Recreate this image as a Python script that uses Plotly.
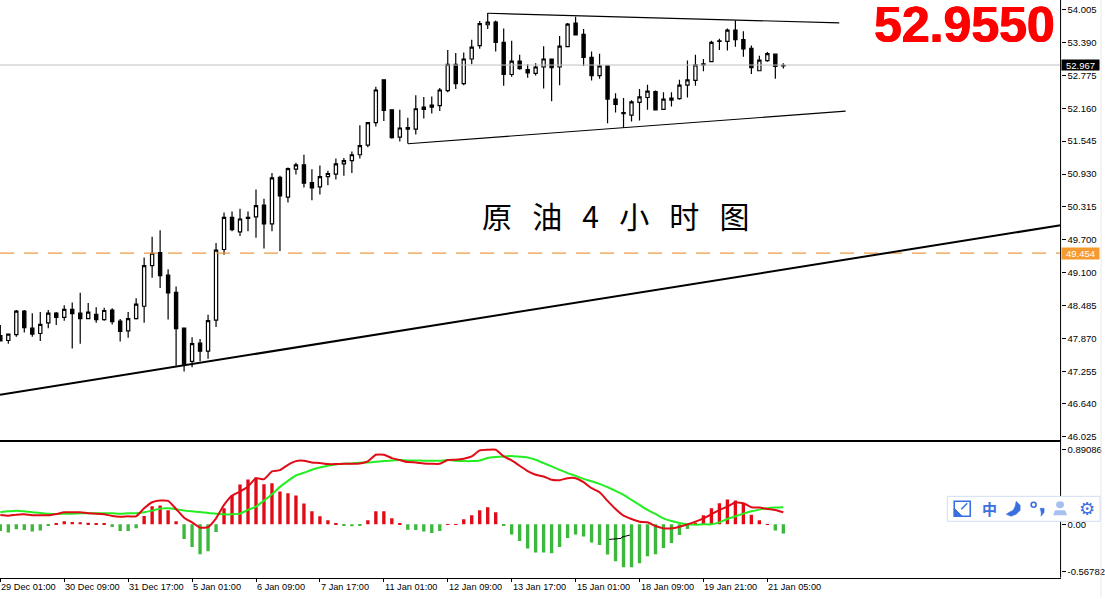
import plotly.graph_objects as go

W, H = 1105, 599

opens = [47.91,47.82,47.93,48.37,48.05,47.95,48.15,48.33,48.25,48.40,48.33,48.23,48.31,48.21,48.39,48.18,48.00,48.23,48.46,49.22,
49.46,49.04,48.72,48.05,47.43,47.77,47.62,48.20,49.52,50.12,49.85,50.12,50.13,50.35,50.00,50.87,50.50,51.02,51.10,50.77,
50.69,50.88,50.93,51.12,51.18,51.29,51.47,51.89,52.69,52.13,51.62,51.80,51.77,52.14,52.18,52.21,52.49,52.98,52.62,53.08,
53.33,53.72,53.77,53.39,52.79,53.04,52.88,52.81,52.93,53.08,52.93,53.31,53.75,53.54,53.11,52.77,52.95,52.33,52.08,52.03,
52.27,52.36,52.47,52.14,52.31,52.34,52.59,52.68,52.97,53.03,53.41,53.41,53.62,53.44,53.28,52.86,53.05,53.17,52.95]
highs = [48.11,47.94,48.39,48.39,48.33,48.35,48.39,48.35,48.48,48.53,48.71,48.52,48.44,48.43,48.42,48.22,48.35,48.61,49.37,49.76,
49.88,49.15,48.83,48.06,47.88,47.85,48.30,49.64,50.21,50.23,50.28,50.23,50.64,50.47,50.95,50.90,51.05,51.14,51.29,51.02,
51.09,50.99,51.22,51.23,51.35,51.84,51.89,52.56,52.69,52.13,52.13,51.98,52.40,52.37,52.38,52.54,53.25,53.19,53.20,53.44,
53.79,53.94,53.80,53.65,53.42,53.16,52.98,53.00,53.32,53.08,53.51,53.75,53.87,53.64,53.22,53.18,52.95,52.44,52.35,52.31,
52.52,52.60,52.49,52.46,52.46,52.69,53.05,53.16,53.08,53.42,53.46,53.65,53.80,53.60,53.33,53.14,53.21,53.17,53.00]
lows = [47.81,47.76,47.89,47.97,47.89,47.81,48.05,48.11,48.19,47.67,47.76,48.23,48.15,48.19,48.12,47.80,47.87,48.21,48.15,48.99,
48.80,48.21,47.35,47.24,47.32,47.43,47.48,48.07,49.42,49.86,49.77,49.86,49.74,49.54,49.86,49.49,50.40,50.92,50.68,50.44,
50.55,50.72,50.83,50.90,50.95,51.22,51.43,51.82,51.92,51.59,51.54,51.50,51.67,51.97,52.06,52.11,52.46,52.52,52.59,52.98,
53.27,53.64,53.22,52.58,52.75,52.88,52.73,52.77,52.53,52.29,52.59,53.31,53.52,52.95,52.68,52.71,51.88,52.08,51.79,51.91,
51.93,52.13,52.12,52.13,52.19,52.32,52.36,52.58,52.85,53.03,53.25,53.24,53.31,53.12,52.80,52.85,53.03,52.71,52.90]
closes = [47.81,47.94,48.37,48.06,47.94,48.12,48.33,48.25,48.40,48.32,48.23,48.35,48.21,48.38,48.17,47.99,48.23,48.50,49.22,49.45,
49.03,48.71,48.04,47.38,47.76,47.62,48.19,49.51,50.12,49.89,50.09,50.10,50.34,50.00,50.86,50.52,51.03,51.10,50.76,50.67,
50.88,50.94,51.12,51.18,51.29,51.46,51.89,52.50,52.12,51.61,51.79,51.77,52.15,52.18,52.22,52.50,52.98,52.62,53.08,53.30,
53.74,53.77,53.39,52.79,53.04,52.90,52.82,52.93,53.08,52.92,53.32,53.73,53.53,53.11,52.77,52.95,52.33,52.23,52.06,52.28,
52.37,52.48,52.13,52.33,52.35,52.59,52.69,52.97,52.99,53.39,53.42,53.62,53.44,53.27,52.92,53.06,53.18,52.94,52.96]

histogram = [-.08,-.096,-.06,-.068,-.084,-.072,-.02,.006,.036,.028,.024,.02,.008,.008,-.032,-.08,-.08,-.048,.10,.216,
.224,.168,.036,-.176,-.272,-.356,-.32,-.092,.192,.344,.476,.536,.56,.48,.492,.392,.372,.344,.248,.156,
.096,.048,.008,-.02,-.024,-.016,.048,.156,.156,.072,.008,-.064,-.068,-.084,-.104,-.08,.004,.004,.06,.108,
.168,.204,.144,-.02,-.12,-.20,-.288,-.336,-.336,-.344,-.272,-.164,-.12,-.144,-.216,-.248,-.36,-.44,-.512,-.512,
-.464,-.38,-.356,-.284,-.224,-.128,-.056,.02,.108,.192,.252,.296,.284,.244,.116,.048,.004,-.072,-.108]
macd_line = [.112,.104,.116,.12,.108,.108,.108,.124,.144,.144,.144,.132,.128,.12,.10,.092,.096,.096,.192,.264,
.284,.28,.184,.08,.024,-.04,-.032,.072,.232,.344,.392,.452,.552,.54,.632,.648,.712,.756,.76,.74,
.732,.72,.72,.724,.724,.728,.752,.832,.832,.792,.768,.744,.74,.728,.724,.724,.768,.772,.784,.812,
.884,.892,.892,.812,.764,.70,.636,.592,.572,.532,.528,.552,.552,.504,.432,.384,.28,.184,.104,.064,
.032,.024,-.02,-.048,-.048,-.028,0,.032,.072,.12,.172,.212,.26,.252,.204,.20,.184,.172,.144]
signal_line = [.144,.156,.164,.156,.144,.136,.128,.124,.128,.128,.132,.132,.132,.132,.132,.128,.132,.132,.144,.164,
.188,.192,.18,.164,.156,.148,.136,.128,.12,.12,.128,.172,.212,.284,.36,.448,.52,.584,.616,.652,
.68,.70,.716,.724,.728,.736,.74,.748,.756,.764,.768,.764,.764,.76,.76,.76,.768,.76,.756,.756,
.764,.792,.804,.812,.816,.808,.80,.772,.732,.692,.652,.612,.58,.544,.516,.484,.444,.40,.352,.292,
.232,.172,.124,.072,.04,.016,0,-.004,0,0,.024,.064,.096,.128,.156,.176,.192,.20,.204]

bar_index = list(range(len(opens)))
assert all(len(a) == len(opens) for a in (highs, lows, closes, histogram, macd_line, signal_line))

price_tick_values = [54.005,53.390,52.775,52.160,51.545,50.930,50.315,49.700,49.085,48.470,47.855,47.240,46.640,46.025]
price_tick_labels = ["54.005","53.390","52.775","52.160","51.545","50.930","50.315","49.700","49.100","48.485","47.870","47.255","46.640","46.025"]
macd_tick_values = [0.89086, 0.0, -0.56782]
macd_tick_labels = ["0.89086", "0.00", "-0.56782"]
time_tick_bars = [0,8,16,24,32,40,48,56,64,72,80,88,96]
time_tick_labels = ["29 Dec 01:00","30 Dec 09:00","31 Dec 17:00","5 Jan 01:00","6 Jan 09:00","7 Jan 17:00","11 Jan 01:00",
                    "12 Jan 09:00","13 Jan 17:00","15 Jan 01:00","18 Jan 09:00","19 Jan 21:00","21 Jan 05:00"]

bid_price = 52.967
alert_price = 49.454
support_x, support_y = [-0.04, 132.7], [46.807, 49.973]
upper_x, upper_y = [61, 105], [53.934, 53.754]
lower_x, lower_y = [51, 105.8], [51.495, 52.106]
stub_x, stub_y = [76.2, 77.7, 77.8, 78.8], [-.18, -.168, -.152, -.128]

X_RANGE = [-0.04, 132.7]
Y_RANGE = [45.96, 54.182]
M_RANGE = [-0.636, 0.984]

PLOT_R = 1062.5
TOP_B = 441.5
LOW_T = 443.5
LOW_B = 579.5

def px(x): return x / W
def py(y): return 1 - y / H

fig = go.Figure()
axes = dict(xaxis="x", yaxis="y")
axes2 = dict(xaxis="x2", yaxis="y2")

fig.add_trace(go.Scatter(x=X_RANGE, y=[bid_price]*2, mode="lines", line=dict(color="#c0c0c0", width=1), **axes))
fig.add_trace(go.Scatter(x=X_RANGE, y=[alert_price]*2, mode="lines", line=dict(color="#ee9a44", width=1.3, dash="14px,10px"), **axes))
fig.add_trace(go.Candlestick(x=bar_index, open=opens, high=highs, low=lows, close=closes, whiskerwidth=0,
    increasing=dict(line=dict(color="#000000", width=1.2), fillcolor="#ffffff"),
    decreasing=dict(line=dict(color="#000000", width=1.2), fillcolor="#000000"), **axes))
fig.add_trace(go.Scatter(x=support_x, y=support_y, mode="lines", line=dict(color="#000000", width=2), **axes))
fig.add_trace(go.Scatter(x=upper_x, y=upper_y, mode="lines", line=dict(color="#000000", width=1.1), **axes))
fig.add_trace(go.Scatter(x=lower_x, y=lower_y, mode="lines", line=dict(color="#000000", width=1.1), **axes))

pos = [(i, v) for i, v in zip(bar_index, histogram) if v >= 0]
neg = [(i, v) for i, v in zip(bar_index, histogram) if v < 0]
fig.add_trace(go.Bar(x=[p[0] for p in pos], y=[p[1] for p in pos], marker=dict(color="#e00b16", line=dict(width=0)), width=0.42, **axes2))
fig.add_trace(go.Bar(x=[p[0] for p in neg], y=[p[1] for p in neg], marker=dict(color="#3cb83c", line=dict(width=0)), width=0.42, **axes2))
fig.add_trace(go.Scatter(x=bar_index, y=signal_line, mode="lines", line=dict(color="#22ee22", width=2, shape="spline", smoothing=0.5), **axes2))
fig.add_trace(go.Scatter(x=bar_index, y=macd_line, mode="lines", line=dict(color="#e00b16", width=2, shape="spline", smoothing=0.5), **axes2))
fig.add_trace(go.Scatter(x=stub_x, y=stub_y, mode="lines", line=dict(color="#000000", width=1), **axes2))

axis_font = dict(family="Liberation Sans", size=9.5, color="#000000")
time_font = dict(family="Liberation Sans", size=9.2, color="#000000")
annotations = []
for bar, label in zip(time_tick_bars, time_tick_labels):
    annotations.append(dict(x=bar, xref="x2", y=py(588.5), yref="paper", text=label, showarrow=False,
                            xanchor="left", yanchor="middle", xshift=-1, font=time_font))
annotations.append(dict(x=px(1063), y=py(65.3), xref="paper", yref="paper", text="52.967", showarrow=False, xanchor="left",
                        yanchor="middle", bgcolor="#000000", font=dict(family="Liberation Sans", size=9.5, color="#ffffff"),
                        borderpad=0, width=37, height=10, align="center"))
annotations.append(dict(x=px(1063), y=py(254), xref="paper", yref="paper", text="49.454", showarrow=False, xanchor="left",
                        yanchor="middle", bgcolor="#f59a2f", font=dict(family="Liberation Sans", size=9.5, color="#ffffff"),
                        borderpad=0, width=37, height=11, align="center"))
annotations.append(dict(x=px(1059), y=py(25), xref="paper", yref="paper", text="<b>52.9550</b>", showarrow=False,
                        xanchor="right", yanchor="middle",
                        font=dict(family="Liberation Sans", size=50, color="#ff0000", shadow="0.6px 0 0 #ff0000, -0.6px 0 0 #ff0000")))
annotations.append(dict(x=px(617), y=py(216), xref="paper", yref="paper", text="原   油   4   小   时   图", showarrow=False,
                        xanchor="center", yanchor="middle", font=dict(family="Noto Sans CJK SC", size=30, color="#000000")))
annotations.append(dict(x=px(991), y=py(510), xref="paper", yref="paper", text="<b>中</b>", showarrow=False,
                        xanchor="center", yanchor="middle", font=dict(family="Noto Sans CJK SC", size=15, color="#3a6fe0")))
annotations.append(dict(x=px(1089), y=py(510), xref="paper", yref="paper", text="⚙", showarrow=False,
                        xanchor="center", yanchor="middle", font=dict(family="DejaVu Sans", size=18, color="#3a6fe0")))

def P(x, y): return f"{px(x):.5f},{py(y):.5f}"
def path(points):
    return "M" + " L".join(P(*p) for p in points) + " Z"

BLUE = "#3a6fe0"
shapes = [
    dict(type="line", xref="paper", yref="paper", x0=px(PLOT_R), x1=px(PLOT_R), y0=py(0), y1=py(LOW_B), line=dict(color="#000000", width=1)),
    dict(type="line", xref="paper", yref="paper", x0=px(1103), x1=px(1103), y0=py(0), y1=py(599), line=dict(color="#e8e8e8", width=1)),
    # toolbar
    dict(type="rect", xref="paper", yref="paper", x0=px(949), x1=px(1102), y0=py(498), y1=py(523),
         fillcolor="#ffffff", line=dict(color="#d3dcf5", width=1), layer="above"),
    dict(type="path", xref="paper", yref="paper", path=path([(956,503),(972,503),(972,518),(956,518)]),
         fillcolor="#ffffff", line=dict(color=BLUE, width=1.6), layer="above"),
    dict(type="path", xref="paper", yref="paper", path=path([(956,510),(964,518),(956,518)]),
         fillcolor=BLUE, line=dict(color=BLUE, width=1), layer="above"),
    dict(type="line", xref="paper", yref="paper", x0=px(963), y0=py(511), x1=px(969), y1=py(505), line=dict(color=BLUE, width=1.5), layer="above"),
    dict(type="path", xref="paper", yref="paper", path=path([(1018,503),(1022,507),(1022,512),(1018,516),(1013,518),(1008,516),(1011,514),(1015,512),(1017,508)]),
         fillcolor=BLUE, line=dict(color=BLUE, width=0.5), layer="above"),
    dict(type="circle", xref="paper", yref="paper", x0=px(1033), x1=px(1038), y0=py(504), y1=py(509), fillcolor="#ffffff", line=dict(color=BLUE, width=1.6), layer="above"),
    dict(type="path", xref="paper", yref="paper", path=path([(1042,510),(1046,510),(1046,514),(1043,518),(1043,514)]),
         fillcolor=BLUE, line=dict(color=BLUE, width=0.5), layer="above"),
    dict(type="circle", xref="paper", yref="paper", x0=px(1058), x1=px(1066), y0=py(503), y1=py(510), fillcolor="#a8c0f0", line=dict(width=0), layer="above"),
    dict(type="path", xref="paper", yref="paper", path=path([(1055,517),(1057,512),(1067,512),(1069,517)]),
         fillcolor="#a8c0f0", line=dict(width=0), layer="above"),
]

fig.update_layout(
    width=W, height=H, margin=dict(l=0, r=0, t=0, b=0), paper_bgcolor="#ffffff", plot_bgcolor="#ffffff",
    showlegend=False, hovermode=False, barmode="overlay", boxgap=0.42, annotations=annotations, shapes=shapes,
    xaxis=dict(domain=[0, px(PLOT_R)], range=X_RANGE, anchor="y", showgrid=False, zeroline=False, showticklabels=False,
               ticks="", showline=True, linecolor="#000000", linewidth=1, rangeslider=dict(visible=False)),
    yaxis=dict(domain=[py(TOP_B), 1], range=Y_RANGE, anchor="x", side="right", showgrid=False, zeroline=False,
               tickmode="array", tickvals=price_tick_values, ticktext=price_tick_labels, ticks="outside", ticklen=4,
               tickcolor="#000000", tickfont=axis_font, showline=False),
    xaxis2=dict(domain=[0, px(PLOT_R)], range=X_RANGE, anchor="y2", showgrid=False, zeroline=False, showticklabels=False,
                tickmode="array", tickvals=time_tick_bars, ticks="outside", ticklen=3, tickcolor="#000000",
                showline=True, linecolor="#000000", linewidth=1, mirror=True),
    yaxis2=dict(domain=[py(LOW_B), py(LOW_T)], range=M_RANGE, anchor="x2", side="right", showgrid=False, zeroline=False,
                tickmode="array", tickvals=macd_tick_values, ticktext=macd_tick_labels, ticks="outside", ticklen=4,
                tickcolor="#000000", tickfont=axis_font, showline=False),
)

fig.write_html("out.html", config={"displayModeBar": False},
               post_script="document.body.style.margin='0';document.documentElement.style.overflow='hidden';"
                           "var d=document.querySelector('.plotly-graph-div');d.style.display='block';d.parentElement.style.display='block';")
